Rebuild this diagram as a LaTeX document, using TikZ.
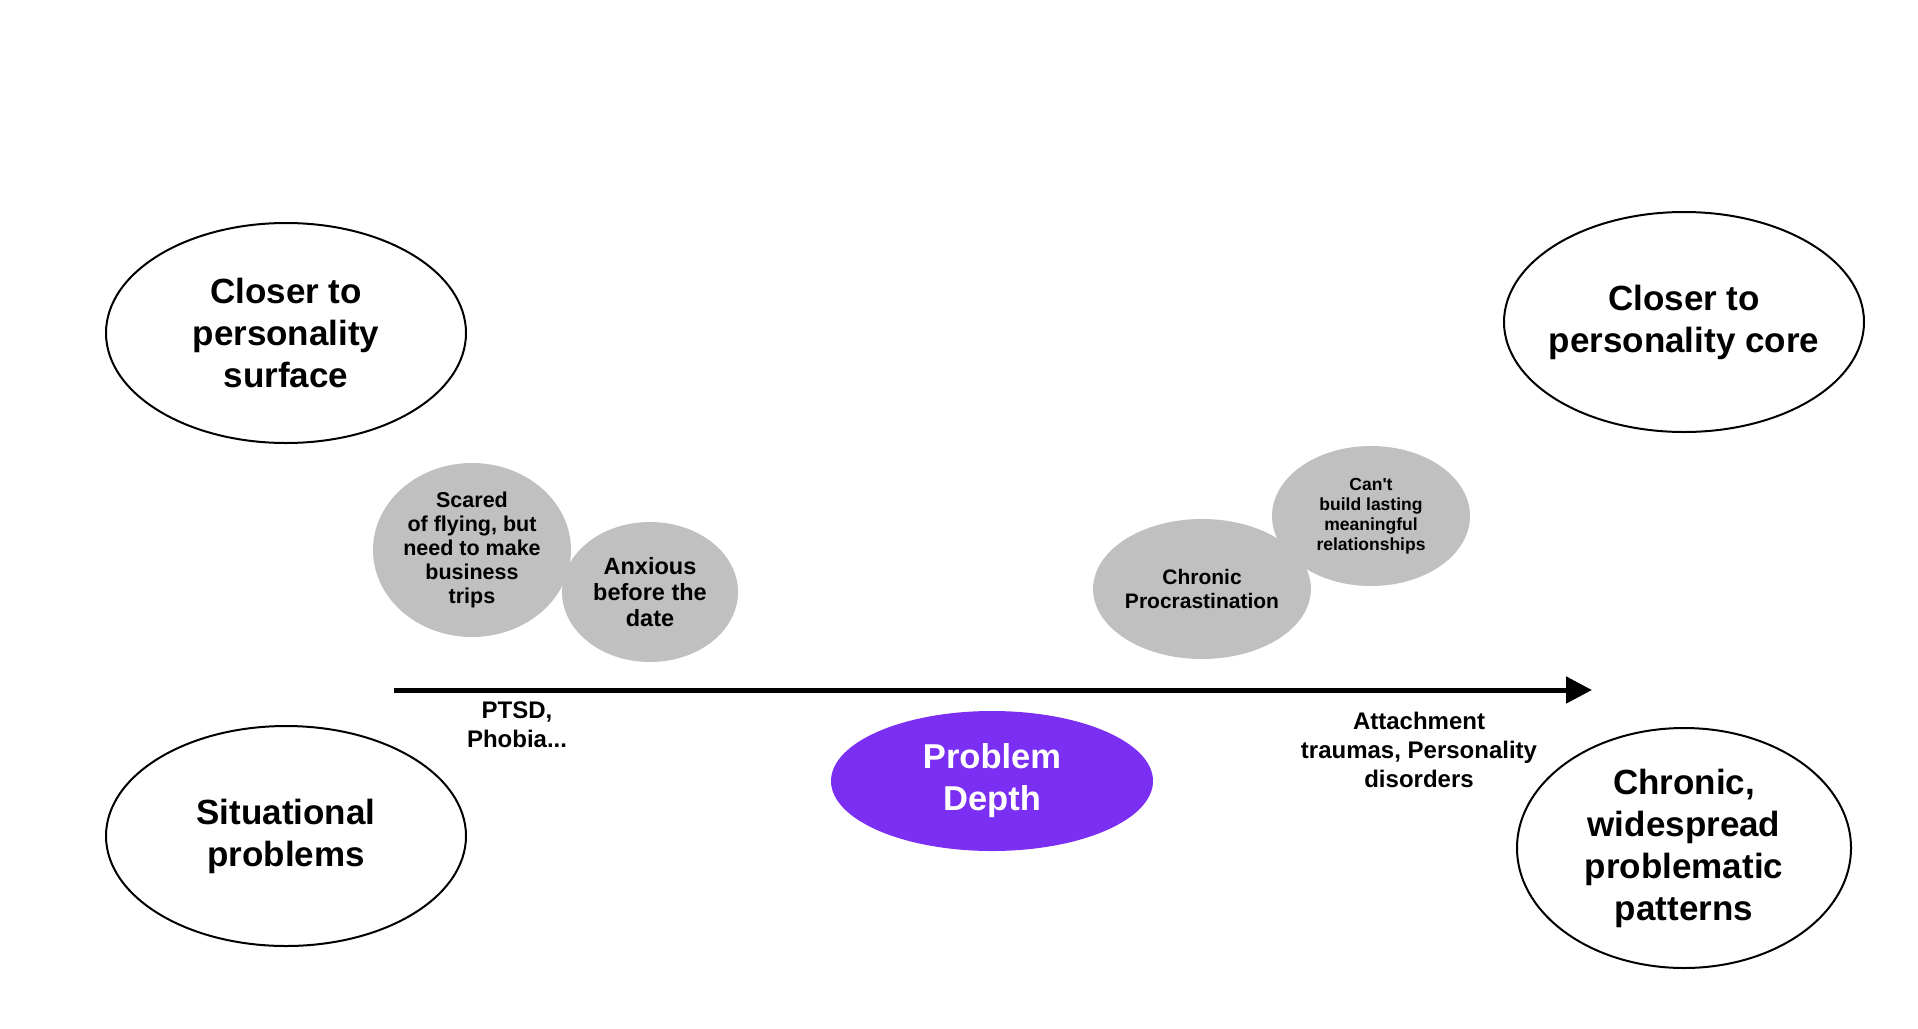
\documentclass[tikz,border=0pt]{standalone}
\usepackage{fontspec}
\setmainfont{Liberation Sans}
\usetikzlibrary{shapes.geometric,arrows.meta}
\definecolor{grayfill}{RGB}{192,192,192}
\definecolor{violetfill}{RGB}{123,47,242}
\tikzset{
  bigell/.style={ellipse,draw=black,line width=2pt,fill=white,inner sep=0pt,align=center,font=\bfseries\fontsize{35}{42}\selectfont},
  grayell/.style={ellipse,fill=grayfill,inner sep=0pt,align=center},
  lbl/.style={align=center,inner sep=0pt,font=\bfseries\fontsize{24}{29}\selectfont},
}
\begin{document}
\begin{tikzpicture}[x=1pt,y=-1pt]
\useasboundingbox[fill=white] (0,0) rectangle (1918,1028);
\node[bigell,minimum width=360pt,minimum height=220pt] (surf) at (286,333) {Closer to\\personality\\surface};
\node[bigell,inner xsep=-40pt,minimum width=360pt,minimum height=220pt] (core) at (1684,322) {Closer to\\personality core};
\node[bigell,minimum width=360pt,minimum height=220pt] (sit) at (286,836) {Situational\\problems};
\node[bigell,minimum width=334pt,minimum height=240pt] (chr) at (1684,848) {Chronic,\\widespread\\problematic\\patterns};
\node[grayell,minimum width=198pt,minimum height=174pt,font=\bfseries\fontsize{21.5}{24.2}\selectfont] (fly) at (472,550) {Scared\\of flying, but\\need to make\\business\\trips};
\node[grayell,minimum width=176pt,minimum height=140pt,font=\bfseries\fontsize{23.5}{25.7}\selectfont] (anx) at (650,592) {Anxious\\before the\\date};
\node[grayell,minimum width=216pt,minimum height=140pt,font=\bfseries\fontsize{21}{24}\selectfont] (proc) at (1202,589) {Chronic\\Procrastination};
\node[grayell,minimum width=198pt,minimum height=140pt,font=\bfseries\fontsize{17.5}{20}\selectfont] (rel) at (1371,516) {Can\textquotesingle t\\build lasting\\meaningful\\relationships};
\node[ellipse,fill=violetfill,text=white,inner sep=0pt,minimum width=322pt,minimum height=140pt,align=center,font=\bfseries\fontsize{34.5}{42}\selectfont] (depth) at (992,781) {Problem\\Depth};
\coordinate (a0) at (394,690);
\coordinate (a1) at (1592,690);
\draw[line width=5pt,-{Triangle[length=26pt,width=26pt]}] (a0) -- (a1);
\node[lbl] (ptsd) at (517,725) {PTSD,\\Phobia...};
\node[lbl] (att) at (1419,750) {Attachment\\traumas, Personality\\disorders};
\end{tikzpicture}
\end{document}
